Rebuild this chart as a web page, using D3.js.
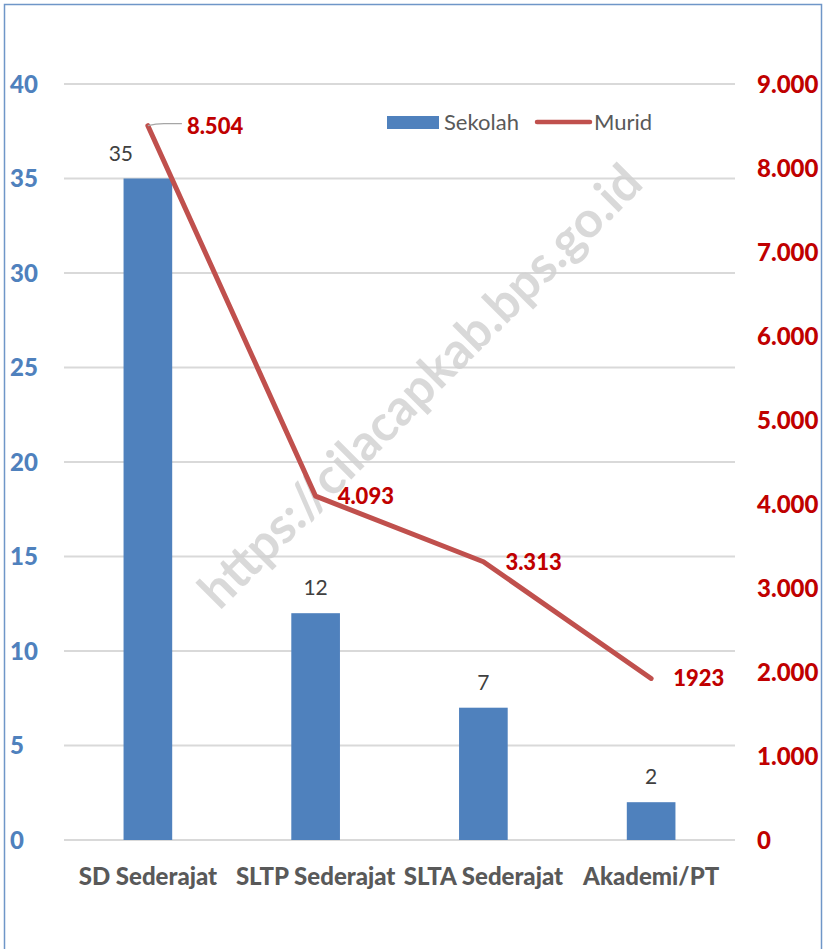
<html>
<head>
<meta charset="utf-8">
<script src="https://d3js.org/d3.v7.min.js"></script>
<style>
body { margin: 0; background: #fff; }
text { font-family: Lato, "Noto Sans", sans-serif; }
</style>
</head>
<body>
<svg id="chart" width="824" height="949"></svg>
<script>
// data
var categories = ["SD Sederajat", "SLTP Sederajat", "SLTA Sederajat", "Akademi/PT"];
var sekolah = [35, 12, 7, 2];
var murid = [8504, 4093, 3313, 1923];
var muridLabels = ["8.504", "4.093", "3.313", "1923"];
var leftTicks = [0, 5, 10, 15, 20, 25, 30, 35, 40];
var rightTicks = [0, 1000, 2000, 3000, 4000, 5000, 6000, 7000, 8000, 9000];

var svg = d3.select("#chart");

// outer border
svg.append("rect")
    .attr("x", 4.5).attr("y", 4.5)
    .attr("width", 817).attr("height", 960)
    .attr("fill", "none")
    .attr("stroke", "#6f96c8")
    .attr("stroke-width", 1.5);

var xs = d3.scaleBand().domain(categories).range([64, 735]).paddingInner(0.71).paddingOuter(0.355);
var yl = d3.scaleLinear().domain([0, 40]).range([840, 84]);
var yr = d3.scaleLinear().domain([0, 9000]).range([840, 84]);

// gridlines
svg.append("g")
  .selectAll("line")
  .data(leftTicks)
  .enter()
  .append("line")
    .attr("x1", 64).attr("x2", 735)
    .attr("y1", function(d) { return yl(d); })
    .attr("y2", function(d) { return yl(d); })
    .attr("stroke", "#d9d9d9")
    .attr("stroke-width", 2);

// left axis labels
svg.append("g")
  .selectAll("text")
  .data(leftTicks)
  .enter()
  .append("text")
    .attr("x", 10)
    .attr("y", function(d) { return yl(d); })
    .attr("dy", "0.36em")
    .attr("fill", "#4f81bd")
    .style("font-size", "24px")
    .style("font-weight", "900")
    .text(function(d) { return d; });

// right axis labels
var fmt = function(d) { return d === 0 ? "0" : d3.format(",")(d).replace(/,/g, "."); };
svg.append("g")
  .selectAll("text")
  .data(rightTicks)
  .enter()
  .append("text")
    .attr("x", 757)
    .attr("y", function(d) { return yr(d); })
    .attr("dy", "0.36em")
    .attr("fill", "#c00000")
    .style("font-size", "24px")
    .style("font-weight", "900")
    .text(fmt);

// watermark
svg.append("text")
    .attr("transform", "translate(420,386) rotate(-45)")
    .attr("text-anchor", "middle")
    .attr("dy", "0.35em")
    .attr("fill", "#d0d0d0")
    .attr("fill-opacity", 0.8)
    .style("font-size", "50px")
    .style("font-weight", "bold")
    .text("https://cilacapkab.bps.go.id");

// bars
svg.append("g")
  .selectAll("rect")
  .data(sekolah)
  .enter()
  .append("rect")
    .attr("x", function(d, i) { return xs(categories[i]); })
    .attr("y", function(d) { return yl(d); })
    .attr("width", xs.bandwidth())
    .attr("height", function(d) { return yl(0) - yl(d); })
    .attr("fill", "#4f81bd");

// bar labels (first one nudged left, as in the original)
svg.append("g")
  .selectAll("text")
  .data(sekolah)
  .enter()
  .append("text")
    .attr("x", function(d, i) { return xs(categories[i]) + xs.bandwidth() / 2 - (i === 0 ? 27 : 0); })
    .attr("y", function(d) { return yl(d) - 18; })
    .attr("text-anchor", "middle")
    .attr("fill", "#404040")
    .style("font-size", "21px")
    .text(function(d) { return d; });

// line
var cx = function(i) { return xs(categories[i]) + xs.bandwidth() / 2; };
var line = d3.line()
    .x(function(d, i) { return cx(i); })
    .y(function(d) { return yr(d); });
svg.append("path")
    .datum(murid)
    .attr("d", line)
    .attr("fill", "none")
    .attr("stroke", "#c0504d")
    .attr("stroke-width", 5)
    .attr("stroke-linecap", "round")
    .attr("stroke-linejoin", "round");

// leader line for first label
svg.append("path")
    .attr("d", "M" + cx(0) + "," + yr(murid[0]) + " Q" + (cx(0) + 8) + "," + (yr(murid[0]) - 2) + " " + (cx(0) + 16) + "," + (yr(murid[0]) - 2) + " L" + (cx(0) + 34) + "," + (yr(murid[0]) - 2))
    .attr("fill", "none")
    .attr("stroke", "#a6a6a6")
    .attr("stroke-width", 1.2);

// line labels
svg.append("g")
  .selectAll("text")
  .data(murid)
  .enter()
  .append("text")
    .attr("x", function(d, i) { return cx(i) + (i === 0 ? 39 : 22); })
    .attr("y", function(d) { return yr(d); })
    .attr("dy", "0.36em")
    .attr("fill", "#c00000")
    .style("font-size", "22px")
    .style("font-weight", "900")
    .text(function(d, i) { return muridLabels[i]; });

// category labels
svg.append("g")
  .selectAll("text")
  .data(categories)
  .enter()
  .append("text")
    .attr("x", function(d) { return xs(d) + xs.bandwidth() / 2; })
    .attr("y", 876)
    .attr("dy", "0.36em")
    .attr("text-anchor", "middle")
    .attr("fill", "#595959")
    .style("font-size", "24px")
    .style("font-weight", "900")
    .text(function(d) { return d; });

// legend
var legend = svg.append("g");
legend.append("rect")
    .attr("x", 387).attr("y", 116)
    .attr("width", 52).attr("height", 13)
    .attr("fill", "#4f81bd");
legend.append("text")
    .attr("x", 444).attr("y", 122)
    .attr("dy", "0.36em")
    .attr("fill", "#595959")
    .style("font-size", "22px")
    .text("Sekolah");
legend.append("line")
    .attr("x1", 537).attr("x2", 590)
    .attr("y1", 122).attr("y2", 122)
    .attr("stroke", "#c0504d")
    .attr("stroke-width", 4.5)
    .attr("stroke-linecap", "round");
legend.append("text")
    .attr("x", 594).attr("y", 122)
    .attr("dy", "0.36em")
    .attr("fill", "#595959")
    .style("font-size", "22px")
    .text("Murid");
</script>
</body>
</html>
